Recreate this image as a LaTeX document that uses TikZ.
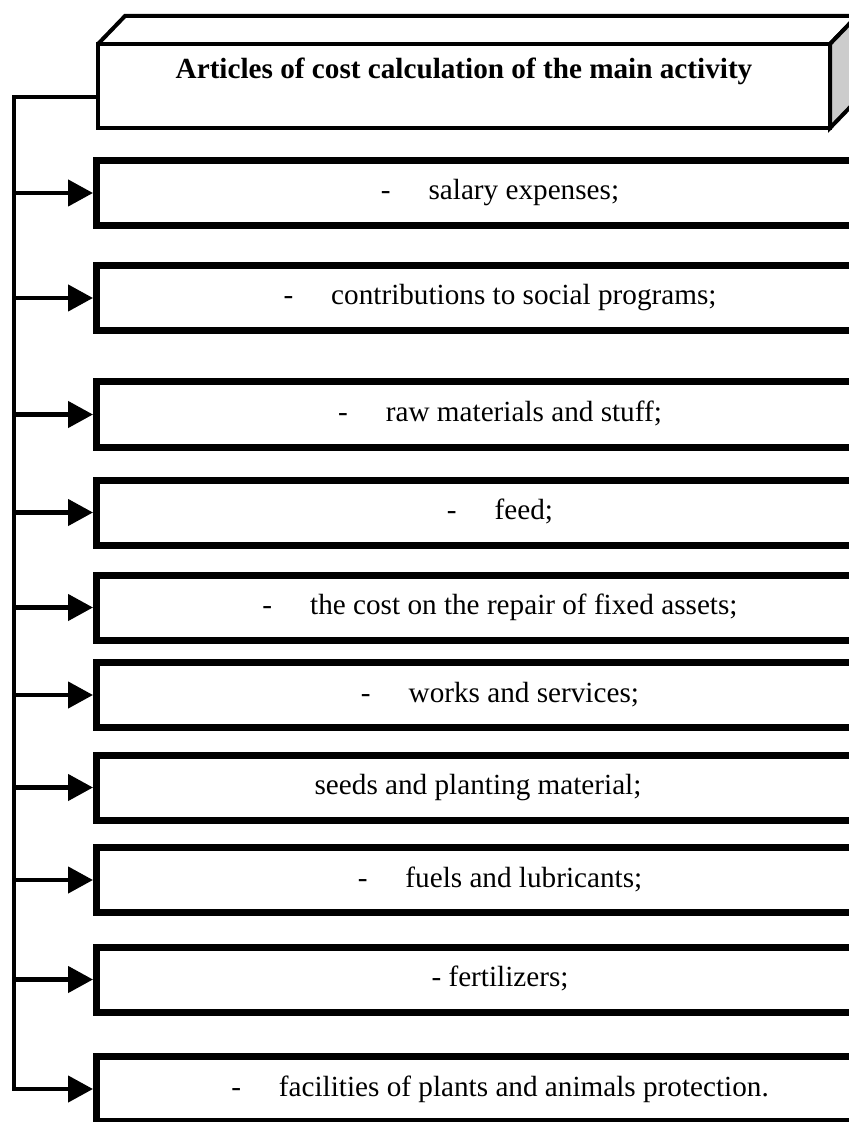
\documentclass[tikz,border=0pt]{standalone}
\usepackage{fontspec}
\setmainfont{Liberation Serif}
\usetikzlibrary{arrows.meta}
\usetikzlibrary{backgrounds}

\newcommand{\itemdash}{-\hspace{19pt}}

\begin{document}
\begin{tikzpicture}[>={Triangle[length=12.5pt,width=13pt]},x=0.5pt, y=-0.5pt, background rectangle/.style={fill=white}, inner frame sep=0pt, show background rectangle]
\tikzset{headbox/.style={draw,line width=2pt,outer sep=0pt,minimum width=366pt,minimum height=42pt,font=\fontsize{14.6}{17}\selectfont\bfseries,text height=9pt,text depth=16pt}}
\tikzset{costbox/.style={draw,line width=3.5pt,inner sep=0pt,minimum width=403.5pt,minimum height=32.5pt,font=\fontsize{14.6}{17}\selectfont,text height=10pt,text depth=3pt}}
\tikzset{conn/.style={line width=2.25pt}}

\useasboundingbox (0,0) rectangle (849,1122);
\clip (0,0) rectangle (849,1122);

% heading - drawn as a box with top and side faces
\node[headbox] (title) at (464,86) {Articles of cost calculation of the main activity};
\draw[line width=2pt] (title.north west) -- ++(27,-28) -- ++(732,0) -- (title.north east);
\draw[line width=2pt,fill=black!20] (title.north east) -- ++(27,-28) -- ++(0,84) -- (title.south east) -- cycle;

% cost items (boxes run on past the right edge)
\node[costbox] (salary) at (500,193) {\itemdash salary expenses;};
\node[costbox] (social) at (500,298) {\itemdash contributions to social programs;};
\node[costbox] (raw) at (500,414.5) {\itemdash raw materials and stuff;};
\node[costbox] (feed) at (500,512.5) {\itemdash feed;};
\node[costbox] (repair) at (500,607.5) {\itemdash the cost on the repair of fixed assets;};
\node[costbox] (works) at (500,695) {\itemdash works and services;};
\node[costbox] (seeds) at (500,787.5) {seeds and planting material;\hspace*{22pt}};
\node[costbox] (fuels) at (500,880) {\itemdash fuels and lubricants;};
\node[costbox] (fert) at (500,979.5) {- fertilizers;};
\node[costbox] (protect) at (500,1089) {\itemdash facilities of plants and animals protection.};

% trunk on the left
\coordinate (trunk) at (14,0);
\draw[conn,->] ([yshift=-5.5pt]title.west) -| (trunk |- protect.west) -- (protect.west);

\draw[conn,->] (trunk |- salary.west) -- (salary.west);
\draw[conn,->] (trunk |- social.west) -- (social.west);
\draw[conn,->] (trunk |- raw.west) -- (raw.west);
\draw[conn,->] (trunk |- feed.west) -- (feed.west);
\draw[conn,->] (trunk |- repair.west) -- (repair.west);
\draw[conn,->] (trunk |- works.west) -- (works.west);
\draw[conn,->] (trunk |- seeds.west) -- (seeds.west);
\draw[conn,->] (trunk |- fuels.west) -- (fuels.west);
\draw[conn,->] (trunk |- fert.west) -- (fert.west);

\end{tikzpicture}
\end{document}
